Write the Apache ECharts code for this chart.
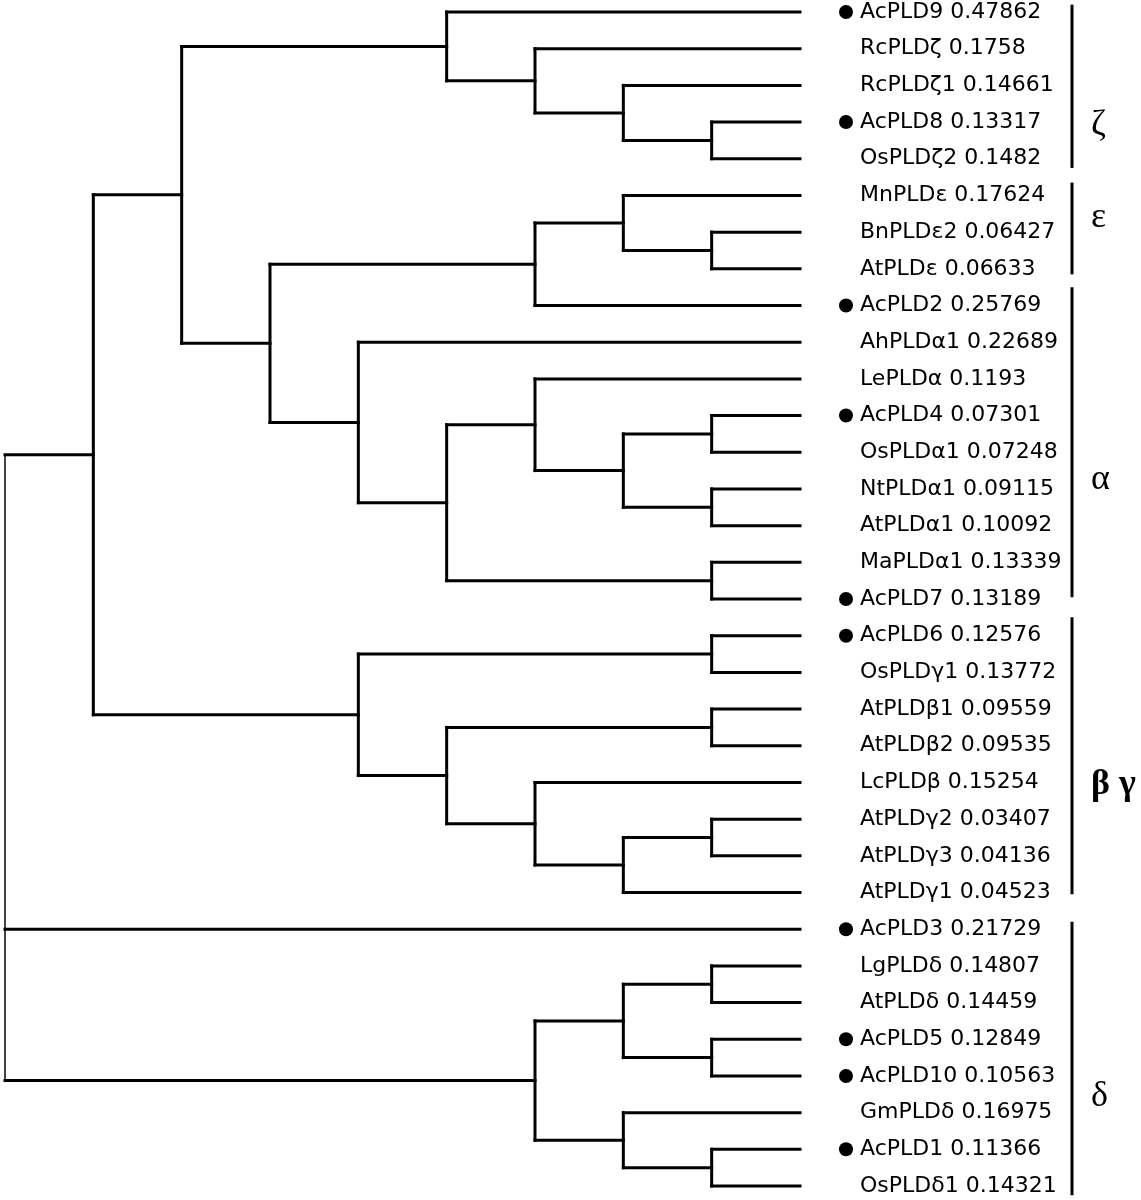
<!DOCTYPE html>
<html>
<head>
    <meta charset="utf-8" />
    <title>PLD tree</title>
    <script src="https://cdn.jsdelivr.net/npm/echarts@6/dist/echarts.min.js"></script>
    <style>
        html, body { margin: 0; padding: 0; background: #fff; }
        #main { width: 1141px; height: 1200px; }
    </style>
</head>
<body>
<div id="main"></div>
<script type="text/javascript">
    // leaves, top to bottom
    var leafNames = ['AcPLD9', 'RcPLDζ', 'RcPLDζ1', 'AcPLD8', 'OsPLDζ2',
        'MnPLDε', 'BnPLDε2', 'AtPLDε', 'AcPLD2', 'AhPLDα1', 'LePLDα', 'AcPLD4',
        'OsPLDα1', 'NtPLDα1', 'AtPLDα1', 'MaPLDα1', 'AcPLD7', 'AcPLD6', 'OsPLDγ1',
        'AtPLDβ1', 'AtPLDβ2', 'LcPLDβ', 'AtPLDγ2', 'AtPLDγ3', 'AtPLDγ1', 'AcPLD3',
        'LgPLDδ', 'AtPLDδ', 'AcPLD5', 'AcPLD10', 'GmPLDδ', 'AcPLD1', 'OsPLDδ1'];
    var leafValues = ['0.47862', '0.1758', '0.14661', '0.13317', '0.1482',
        '0.17624', '0.06427', '0.06633', '0.25769', '0.22689', '0.1193', '0.07301',
        '0.07248', '0.09115', '0.10092', '0.13339', '0.13189', '0.12576', '0.13772',
        '0.09559', '0.09535', '0.15254', '0.03407', '0.04136', '0.04523', '0.21729',
        '0.14807', '0.14459', '0.12849', '0.10563', '0.16975', '0.11366', '0.14321'];
    // leaves with a black dot (the AcPLD genes)
    var markedLeaves = [0, 3, 8, 11, 16, 17, 25, 28, 29, 31];

    // topology, leaves given by their index
    var tree = [
        [
            [
                [0, [1, [2, [3, 4]]]],
                [[[5, [6, 7]], 8], [9, [[10, [[11, 12], [13, 14]]], [15, 16]]]]
            ],
            [[17, 18], [[19, 20], [21, [[22, 23], 24]]]]
        ],
        25,
        [[[26, 27], [28, 29]], [30, [31, 32]]]
    ];

    // clades on the right
    var cladeNames = ['ζ', 'ε', 'α', 'β γ', 'δ'];
    var cladeFrom = [-0.2, 4.65, 7.5, 16.5, 24.8];
    var cladeTo = [4.25, 7.15, 15.95, 24.05, 32.25];
    var cladeLabelAt = [3.1, 5.6, 12.75, 21.05, 29.55];

    // cladogram layout: x = depth from the leaves, y = leaf order
    function height(n) {
        if (typeof n === 'number') return 0;
        var h = 0;
        n.forEach(function (c) { h = Math.max(h, height(c)); });
        return h + 1;
    }
    var maxH = height(tree);
    var segments = [];
    function layout(n, isRoot) {
        if (typeof n === 'number') return { x: maxH, y: n };
        var x = maxH - height(n);
        var kids = n.map(function (c) { return layout(c, false); });
        var y0 = kids[0].y, y1 = kids[kids.length - 1].y;
        segments.push([x, y0, x, y1, isRoot ? 1 : 0]);
        kids.forEach(function (k) { segments.push([x, k.y, k.x, k.y, 0]); });
        return { x: x, y: (y0 + y1) / 2 };
    }
    layout(tree, true);

    var labelData = leafNames.map(function (n, i) {
        return { name: n + ' ' + leafValues[i], value: [maxH, i] };
    });
    var dotData = markedLeaves.map(function (i) { return [maxH, i]; });
    var cladeData = cladeNames.map(function (n, i) {
        return [cladeFrom[i], cladeTo[i], cladeLabelAt[i], i];
    });

    var option = {
        backgroundColor: '#ffffff',
        animation: false,
        grid: { left: 5, right: 341, top: 12, bottom: 14 },
        xAxis: { type: 'value', min: 0, max: maxH, show: false },
        yAxis: { type: 'value', min: 0, max: leafNames.length - 1, inverse: true, show: false },
        series: [{
            type: 'custom',
            data: segments,
            renderItem: function (params, api) {
                var a = api.coord([api.value(0), api.value(1)]);
                var b = api.coord([api.value(2), api.value(3)]);
                var root = api.value(4) === 1;
                return {
                    type: 'line',
                    shape: { x1: a[0], y1: a[1], x2: b[0], y2: b[1] },
                    style: { stroke: root ? '#444' : '#000', lineWidth: root ? 2 : 3, lineCap: root ? 'butt' : 'square' }
                };
            }
        }, {
            type: 'scatter',
            data: labelData,
            symbolSize: 0,
            itemStyle: { opacity: 1 },
            label: {
                show: true,
                position: 'right',
                distance: 60,
                formatter: '{b}',
                color: '#000',
                fontFamily: 'DejaVu Sans',
                fontSize: 22
            }
        }, {
            type: 'scatter',
            data: dotData,
            symbol: 'circle',
            symbolSize: 14,
            symbolOffset: [46, 0],
            itemStyle: { color: '#000', opacity: 1 }
        }, {
            type: 'custom',
            data: cladeData,
            renderItem: function (params, api) {
                var a = api.coord([maxH, api.value(0)]);
                var b = api.coord([maxH, api.value(1)]);
                var t = api.coord([maxH, api.value(2)]);
                var i = api.value(3);
                var bx = a[0] + 272;
                return {
                    type: 'group',
                    children: [{
                        type: 'line',
                        shape: { x1: bx, y1: a[1], x2: bx, y2: b[1] },
                        style: { stroke: '#000', lineWidth: 3 }
                    }, {
                        type: 'text',
                        style: {
                            x: bx + 19, y: t[1],
                            text: cladeNames[i],
                            fill: '#000',
                            font: (i === 3 ? 'bold ' : '') + '36px "Liberation Serif"',
                            textAlign: 'left',
                            textVerticalAlign: 'middle'
                        }
                    }]
                };
            }
        }]
    };
    var myChart = echarts.init(document.getElementById('main'));
    myChart.setOption(option);
</script>
</body>
</html>
